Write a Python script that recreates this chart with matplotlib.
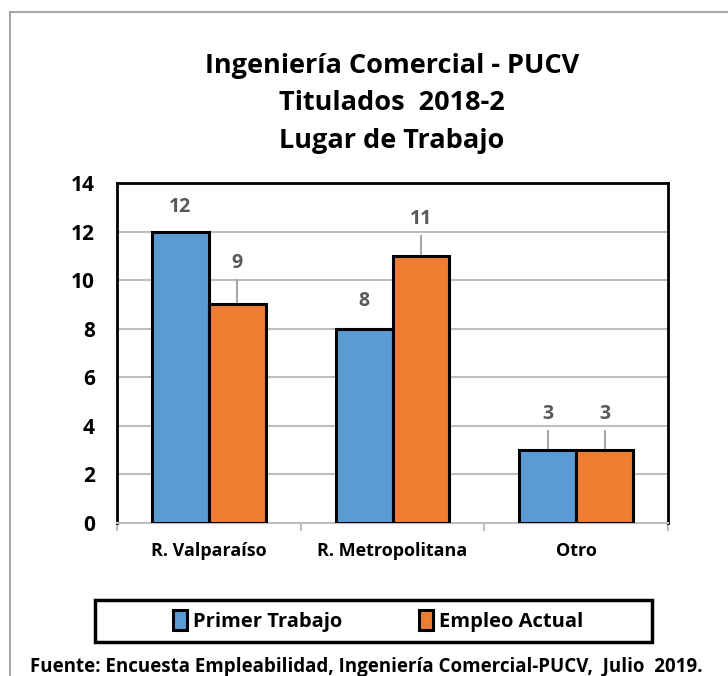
import numpy as np
import matplotlib
matplotlib.use("Agg")
import matplotlib.pyplot as plt
from matplotlib import font_manager
from matplotlib.patches import Rectangle

categories = ["R. Valparaíso", "R. Metropolitana", "Otro"]
primer_trabajo = [12, 8, 3]
empleo_actual = [9, 11, 3]
series_names = ["Primer Trabajo", "Empleo Actual"]

title_lines = ["Ingeniería Comercial - PUCV", "Titulados  2018-2", "Lugar de Trabajo"]
footer = "Fuente: Encuesta Empleabilidad, Ingeniería Comercial-PUCV,  Julio  2019."

# label placement (offset above bar, whether a leader line is drawn)
label_off = [[1.0, 1.15, 1.5], [1.7, 1.5, 1.5]]
leader = [[False, False, True], [True, True, True]]

names = {f.name for f in font_manager.fontManager.ttflist}
fam = "Liberation Sans Narrow" if "Liberation Sans Narrow" in names else "Open Sans"
plt.rcParams["font.family"] = [fam, "DejaVu Sans"]
plt.rcParams["font.weight"] = "bold"

BLUE = "#5B9BD5"
ORANGE = "#ED7D31"
GREY = "#595959"

fig = plt.figure(figsize=(7.28, 6.76), dpi=100)
fig.patches.append(Rectangle((10 / 728, -0.1), 1.2, 0.1 + 664 / 676,
                             transform=fig.transFigure, fill=False,
                             edgecolor="#A6A6A6", linewidth=1.5))

ax = fig.add_axes([117 / 728, 1 - 523 / 676, 551 / 728, 340 / 676])
x = np.arange(len(categories))
w = 0.31
series = [primer_trabajo, empleo_actual]
colors = [BLUE, ORANGE]
for i, (vals, c) in enumerate(zip(series, colors)):
    pos = x + (i - 0.5) * w
    ax.bar(pos, vals, width=w, color=c, edgecolor="black", linewidth=2.2,
           label=series_names[i], zorder=3)
    for j, v in enumerate(vals):
        ty = v + label_off[i][j]
        ax.text(pos[j], ty, str(v), ha="center", va="center", color=GREY,
                fontsize=14, fontweight="bold", zorder=4)
        if leader[i][j]:
            ax.plot([pos[j], pos[j]], [v, ty - 0.7], color="#A6A6A6",
                    linewidth=1.5, zorder=2)

ax.set_xlim(-0.5, 2.5)
ax.set_ylim(0, 14)
ax.set_yticks(range(0, 15, 2))
ax.yaxis.grid(True, color="#BFBFBF", linewidth=1.5, zorder=0)
ax.set_axisbelow(True)
ax.tick_params(axis="y", length=0, labelsize=15, pad=16)
ax.set_xticks(x)
ax.set_xticklabels(categories, fontsize=13, fontweight="bold")
ax.tick_params(axis="x", length=0, pad=14)
# category boundary ticks
ax.set_xticks([-0.5, 0.5, 1.5, 2.5], minor=True)
ax.tick_params(axis="x", which="minor", length=6, color="#BFBFBF", width=1.5)
for s in ["left", "right", "top"]:
    ax.spines[s].set_linewidth(2)
    ax.spines[s].set_color("black")
ax.spines["bottom"].set_color("#BFBFBF")
ax.spines["bottom"].set_linewidth(1.5)

for k, line in enumerate(title_lines):
    fig.text(392 / 728, 1 - (66 + 37.5 * k) / 676, line, ha="center", va="center",
             fontsize=19.5, fontweight="bold")

fig.patches.append(Rectangle((95 / 728, 1 - 642 / 676), 557 / 728, 42 / 676,
                             transform=fig.transFigure, fill=False,
                             edgecolor="black", linewidth=2.5, zorder=5))
leg = fig.legend(loc="center", bbox_to_anchor=(378 / 728, 1 - 621 / 676), ncol=2,
                 frameon=False, fontsize=14.5, handlelength=0.7,
                 handleheight=1.1, columnspacing=3.8, handletextpad=0.3)

fig.text(30 / 728, 1 - 667 / 676, footer, ha="left", va="center", fontsize=13.5,
         fontweight="bold")

fig.savefig("out.png", dpi=100)
